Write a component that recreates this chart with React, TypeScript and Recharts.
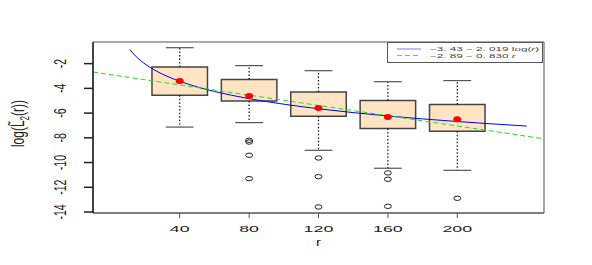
import {
  ComposedChart,
  XAxis,
  YAxis,
  Line,
  Scatter,
  ReferenceArea,
  ReferenceLine,
  Label,
} from "recharts";

// boxplot summaries per r
const rValues = [40, 80, 120, 160, 200];
const upperWhisker = [-0.71, -2.16, -2.57, -3.46, -3.37];
const upperQuartile = [-2.27, -3.29, -4.3, -4.99, -5.31];
const lowerQuartile = [-4.56, -5.02, -6.26, -7.25, -7.47];
const lowerWhisker = [-7.13, -6.77, -9.01, -10.46, -10.63];
const means = [-3.41, -4.62, -5.59, -6.32, -6.5];

// outliers
const outlierR = [80, 80, 80, 80, 120, 120, 120, 160, 160, 160, 200];
const outlierY = [-8.2, -8.34, -9.41, -11.3, -9.63, -11.14, -13.59, -10.84, -11.35, -13.54, -12.89];

// fitted curves
const logFitR = [11.2, 15, 20, 25, 30, 40, 50, 60, 80, 100, 120, 140, 160, 180, 200, 220, 240];
const logFitY = [-0.86, -1.45, -2.03, -2.48, -2.85, -3.43, -3.88, -4.25, -4.83, -5.28, -5.65, -5.96, -6.23, -6.47, -6.68, -6.87, -7.05];
const linFitR = [-10, 250];
const linFitY = [-2.68, -8.08];

const yTicks = [-14, -12, -10, -8, -6, -4, -2];
const xTicks = [40, 80, 120, 160, 200];

const boxes = rValues.map((r, i) => ({
  r,
  hi: upperWhisker[i],
  q3: upperQuartile[i],
  q1: lowerQuartile[i],
  lo: lowerWhisker[i],
}));
const meanPoints = rValues.map((r, i) => ({ r, v: means[i] }));
const outlierPoints = outlierR.map((r, i) => ({ r, v: outlierY[i] }));
const logFit = logFitR.map((r, i) => ({ r, v: logFitY[i] }));
const linFit = linFitR.map((r, i) => ({ r, v: linFitY[i] }));

const font = "'Liberation Sans', Arial, sans-serif";
const BOX_HALF = 16;
const CAP_HALF = 8;

// the original is stretched sideways, so text is widened to match
function XTick({ x, y, payload }: any) {
  return (
    <text
      transform={`translate(${x} ${y + 8}) scale(2.1 1)`}
      textAnchor="middle"
      fontSize={8.5}
      fontFamily={font}
      fill="#222"
    >
      {payload.value}
    </text>
  );
}

function YTick({ x, y, payload }: any) {
  return (
    <text
      transform={`translate(${x} ${y}) scale(1.65 1) rotate(-90)`}
      textAnchor="middle"
      fontSize={10.5}
      fontFamily={font}
      fill="#222"
    >
      {payload.value}
    </text>
  );
}

export default function App() {
  return (
    <div
      style={{
        position: "absolute",
        left: 0,
        top: 0,
        width: 592,
        height: 265,
        background: "#fff",
      }}
    >
      <ComposedChart
        width={592}
        height={265}
        margin={{ top: 42, right: 48, left: 0, bottom: 0 }}
      >
        <XAxis
          type="number"
          dataKey="r"
          domain={[-10, 250]}
          ticks={xTicks}
          allowDataOverflow
          height={52}
          tickSize={5}
          tickMargin={6}
          tick={<XTick />}
          stroke="#555"
        >
          <Label
            content={({ viewBox }: any) => (
              <text
                transform={`translate(${viewBox.x + viewBox.width / 2} ${viewBox.y + 33}) scale(1.35 1)`}
                textAnchor="middle"
                fontSize={11}
                fontFamily={font}
                fill="#222"
              >
                r
              </text>
            )}
          />
        </XAxis>
        <YAxis
          type="number"
          dataKey="v"
          domain={[-14.08, -0.25]}
          ticks={yTicks}
          allowDataOverflow
          width={93}
          tickSize={9}
          tickMargin={18}
          tick={<YTick />}
          stroke="#222"
          strokeWidth={1.5}
        >
          <Label
            content={({ viewBox }: any) => {
              const cy = viewBox.y + viewBox.height / 2 - 4;
              return (
                <text
                  transform={`translate(24 ${cy}) scale(1.6 1) rotate(-90)`}
                  textAnchor="middle"
                  fontSize={12}
                  fontFamily={font}
                  fill="#222"
                >
                  log(L&#771;
                  <tspan fontSize={8} dy={3}>2</tspan>
                  <tspan dy={-3}>(r))</tspan>
                </text>
              );
            }}
          />
        </YAxis>

        {/* plot frame */}
        <ReferenceArea
          x1={-10}
          x2={250}
          y1={-14.08}
          y2={-0.25}
          fill="none"
          stroke="#555"
          strokeWidth={1}
        />

        {/* boxes */}
        {boxes.map((b) => (
          <ReferenceArea
            key={`box-${b.r}`}
            x1={b.r - BOX_HALF}
            x2={b.r + BOX_HALF}
            y1={b.q1}
            y2={b.q3}
            fill="#FFE4C4"
            fillOpacity={1}
            stroke="#444"
            strokeWidth={1.5}
          />
        ))}
        {boxes.map((b) => (
          <ReferenceLine
            key={`wu-${b.r}`}
            segment={[{ x: b.r, y: b.q3 }, { x: b.r, y: b.hi }]}
            stroke="#111"
            strokeDasharray="1.5 2"
            strokeWidth={1.2}
          />
        ))}
        {boxes.map((b) => (
          <ReferenceLine
            key={`wl-${b.r}`}
            segment={[{ x: b.r, y: b.q1 }, { x: b.r, y: b.lo }]}
            stroke="#111"
            strokeDasharray="1.5 2"
            strokeWidth={1.2}
          />
        ))}
        {boxes.map((b) => (
          <ReferenceLine
            key={`cu-${b.r}`}
            segment={[{ x: b.r - CAP_HALF, y: b.hi }, { x: b.r + CAP_HALF, y: b.hi }]}
            stroke="#555"
            strokeWidth={1.2}
          />
        ))}
        {boxes.map((b) => (
          <ReferenceLine
            key={`cl-${b.r}`}
            segment={[{ x: b.r - CAP_HALF, y: b.lo }, { x: b.r + CAP_HALF, y: b.lo }]}
            stroke="#555"
            strokeWidth={1.2}
          />
        ))}

        <Line
          data={logFit}
          dataKey="v"
          type="monotone"
          stroke="#0000ff"
          strokeWidth={1}
          dot={false}
          isAnimationActive={false}
        />
        <Line
          data={linFit}
          dataKey="v"
          type="linear"
          stroke="#22dd22"
          strokeWidth={1}
          strokeDasharray="5 3"
          dot={false}
          isAnimationActive={false}
        />

        <Scatter
          data={outlierPoints}
          dataKey="v"
          isAnimationActive={false}
          shape={(p: any) => (
            <ellipse cx={p.cx} cy={p.cy} rx={3.5} ry={2.2} fill="none" stroke="#222" strokeWidth={1} />
          )}
        />
        <Scatter
          data={meanPoints}
          dataKey="v"
          isAnimationActive={false}
          shape={(p: any) => <ellipse cx={p.cx} cy={p.cy} rx={4} ry={3} fill="#ff0000" />}
        />
      </ComposedChart>

      {/* legend */}
      <div
        style={{
          position: "absolute",
          left: 387,
          top: 42,
          width: 156,
          height: 21,
          border: "1px solid #555",
          background: "#fff",
          boxSizing: "border-box",
        }}
      >
        <svg width={154} height={19} style={{ position: "absolute", left: 0, top: 0 }}>
          <line x1={9} x2={33} y1={6} y2={6} stroke="#7777ff" strokeWidth={1} />
          <line x1={9} x2={33} y1={12.5} y2={12.5} stroke="#33ee33" strokeWidth={1} strokeDasharray="5 3" />
          <text transform="translate(42 8) scale(1.95 1)" fontSize={6} fontFamily={font} fill="#444">
            −3. 43 − 2. 019 log(<tspan fontStyle="italic">r</tspan>)
          </text>
          <text transform="translate(42 14.5) scale(1.95 1)" fontSize={6} fontFamily={font} fill="#444">
            −2. 89 − 0. 830 <tspan fontStyle="italic">r</tspan>
          </text>
        </svg>
      </div>
    </div>
  );
}
